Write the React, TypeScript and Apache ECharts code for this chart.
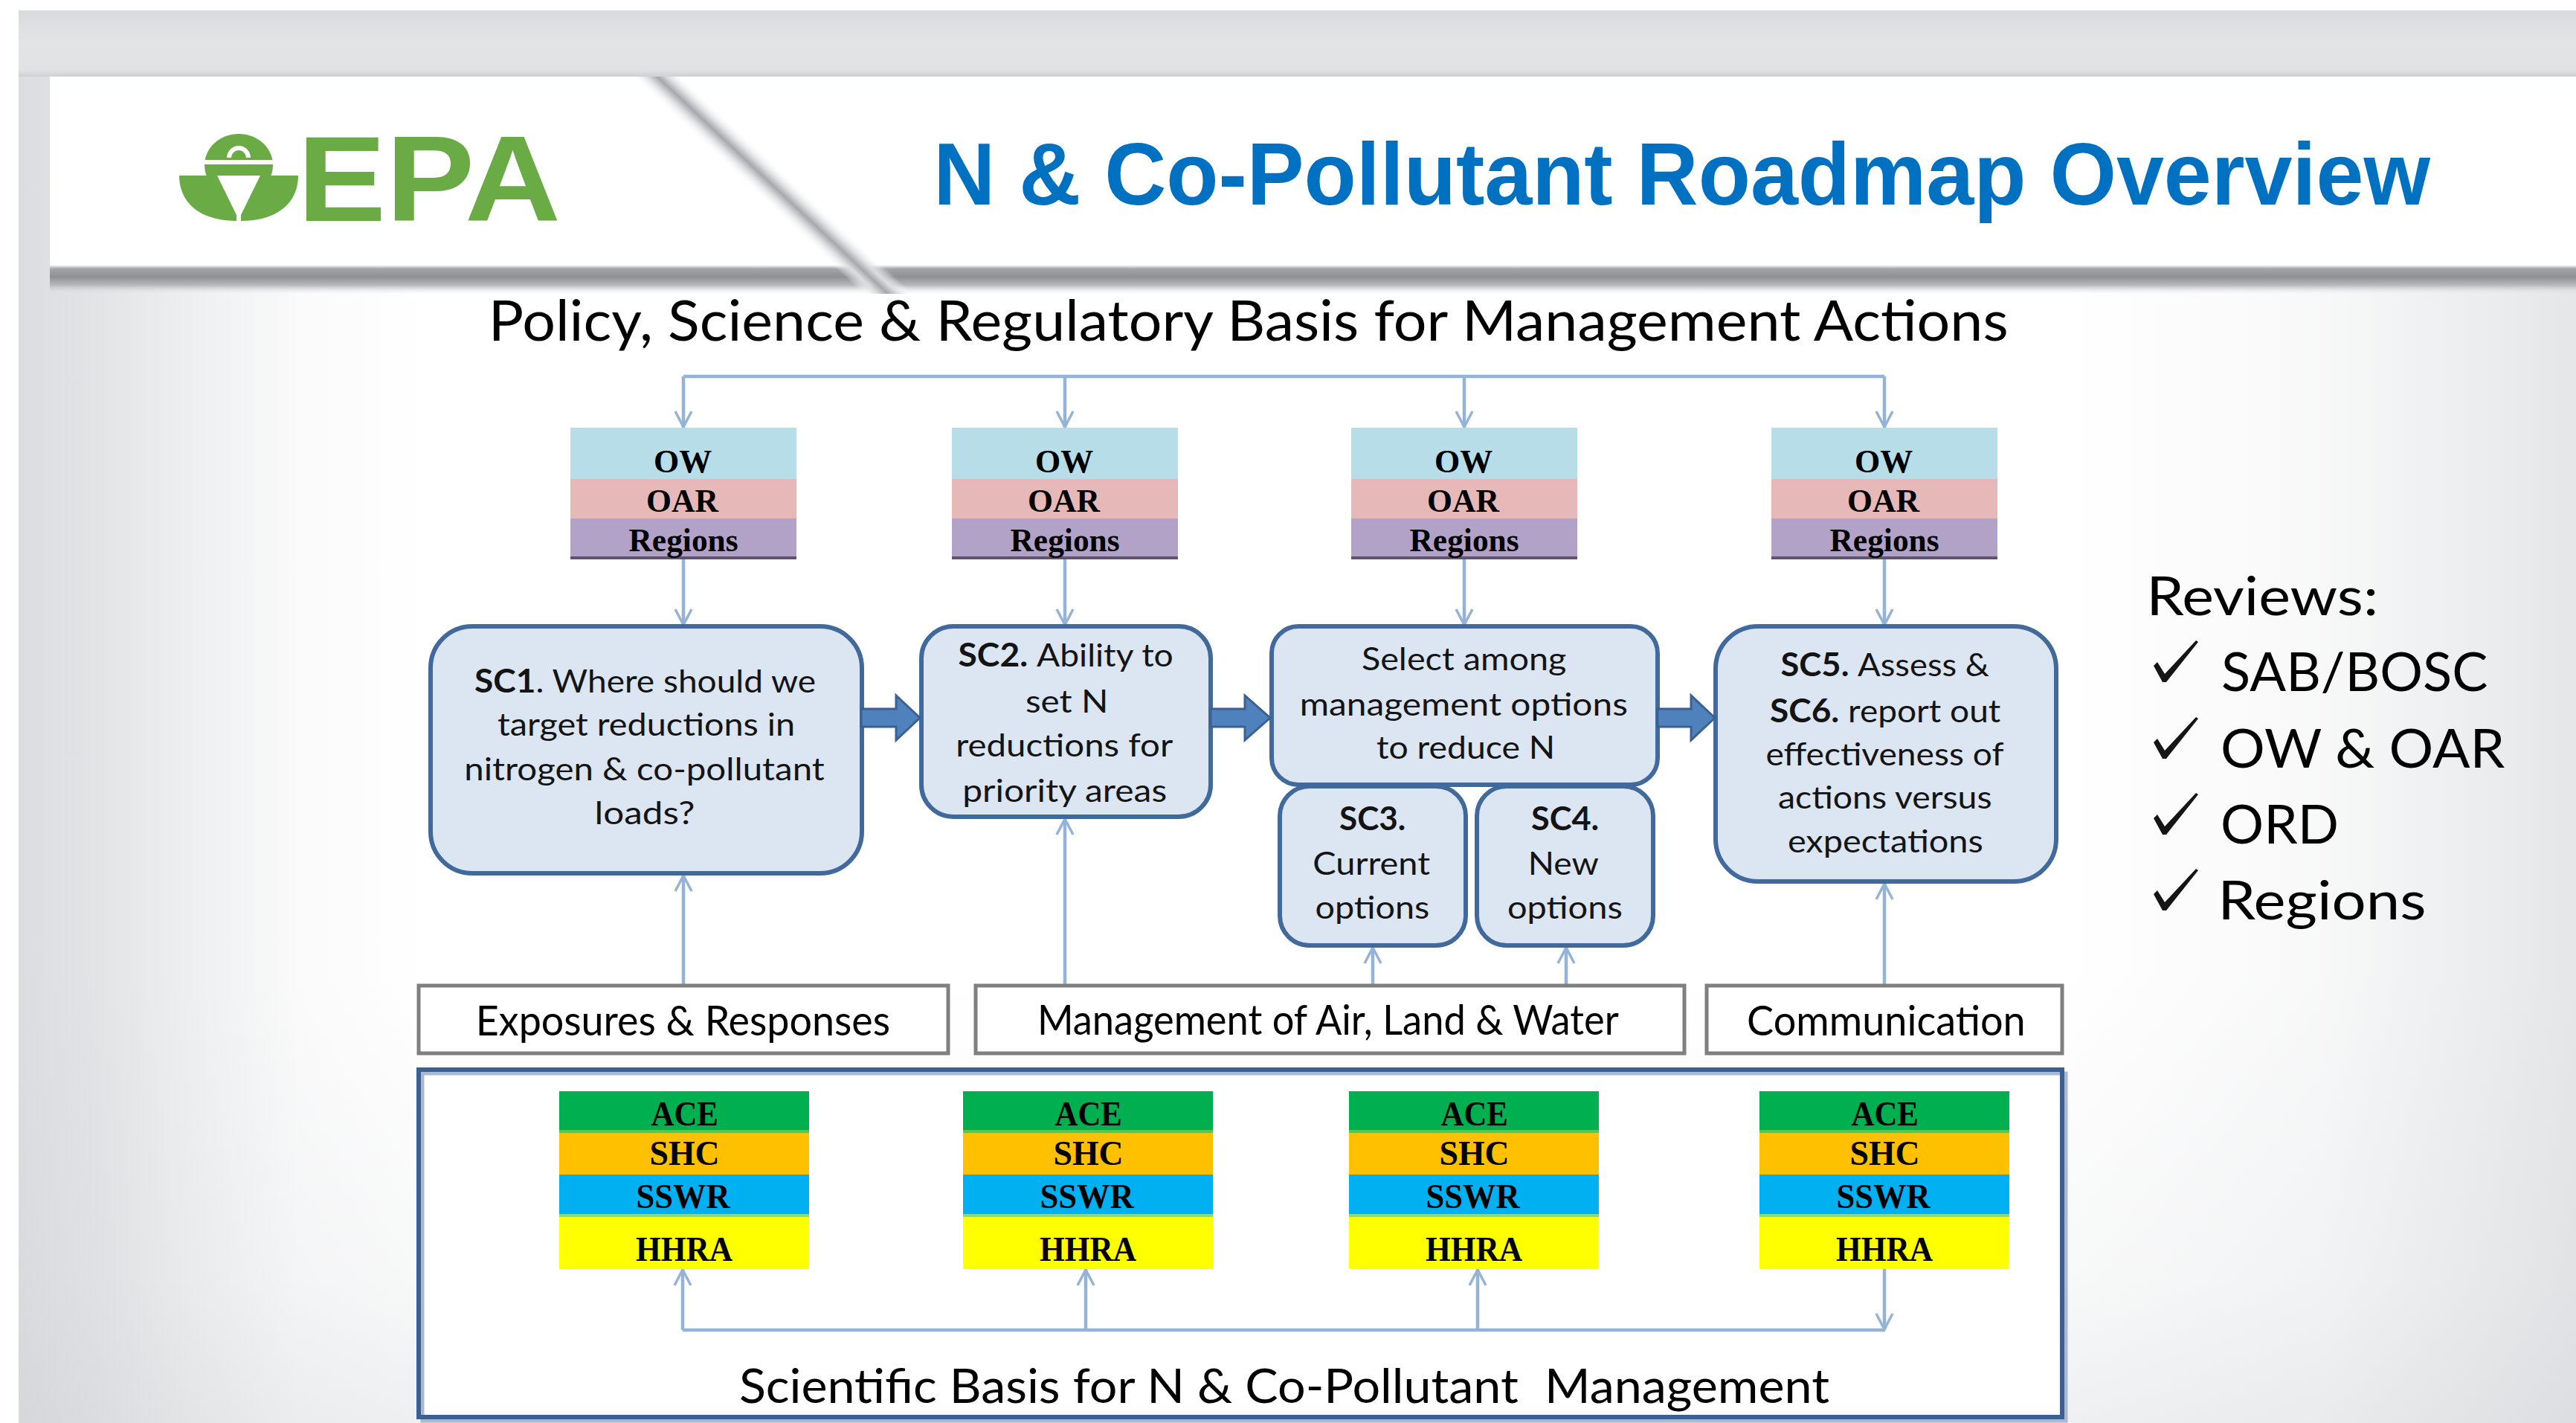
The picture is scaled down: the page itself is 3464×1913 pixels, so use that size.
import React, { useEffect, useRef } from 'react';
import * as echarts from 'echarts';

type Seg = { t: string; b?: boolean };

// ---------------- content (texts) ----------------
const TITLE = 'N & Co-Pollutant Roadmap Overview';
const LOGO_TEXT = 'EPA';
const POLICY_HEADING = 'Policy, Science & Regulatory Basis for Management Actions';
const SCIENCE_HEADING: Seg[] = [{ t: 'Scientific Basis for N & Co-Pollutant' }, { t: '  Management' }];
const OFFICES = ['OW', 'OAR', 'Regions'];
const OFFICE_COLORS = ['#b7dee8', '#e6b9b8', '#b3a2c7'];
const LABS = ['ACE', 'SHC', 'SSWR', 'HHRA'];
const LAB_COLORS = ['#00b050', '#ffc000', '#00b0f0', '#ffff00'];
const THEMES = ['Exposures & Responses', 'Management of Air, Land & Water', 'Communication'];
const REVIEWS_TITLE = 'Reviews:';
const REVIEWS = ['SAB/BOSC', 'OW & OAR', 'ORD', 'Regions'];
const SC1_LINES: Seg[][] = [
  [{ t: 'SC1', b: true }, { t: '. Where should we' }],
  [{ t: 'target reductions in' }],
  [{ t: 'nitrogen & co-pollutant' }],
  [{ t: 'loads?' }],
];
const SC2_LINES: Seg[][] = [
  [{ t: 'SC2.', b: true }, { t: ' Ability to' }],
  [{ t: 'set N' }],
  [{ t: 'reductions for' }],
  [{ t: 'priority areas' }],
];
const SELECT_LINES: Seg[][] = [[{ t: 'Select among' }], [{ t: 'management options' }], [{ t: 'to reduce N' }]];
const SC3_LINES: Seg[][] = [[{ t: 'SC3.', b: true }], [{ t: 'Current' }], [{ t: 'options' }]];
const SC4_LINES: Seg[][] = [[{ t: 'SC4.', b: true }], [{ t: 'New' }], [{ t: 'options' }]];
const SC56_LINES: Seg[][] = [
  [{ t: 'SC5.', b: true }, { t: ' Assess &' }],
  [{ t: 'SC6.', b: true }, { t: ' report out' }],
  [{ t: 'effectiveness of' }],
  [{ t: 'actions versus' }],
  [{ t: 'expectations' }],
];

// ---------------- layout ----------------
const W = 3464;
const H = 1913;
const LINE = '#95b3d7';
const CALIBRI = 'Lato';
const ARIAL = '"Liberation Sans"';
const TIMES = '"Liberation Serif"';

const COL_X = [919, 1432, 1969, 2534];
const OFFICE_W = 304;
const OFFICE_BANDS = [575, 644, 697, 752];
const OFFICE_TEXT_Y = [620, 673, 726];
const OFFICE_TEXT_W = [76, 96, 147];

const LAB_X = [920, 1463, 1982, 2534];
const LAB_W = 336;
const LAB_BANDS = [1467, 1522, 1579, 1635, 1706];
const LAB_TEXT_Y = [1498, 1551, 1609, 1680];
const LAB_TEXT_W = [89, 89, 125, 130];
const LAB_LINE_X = [918, 1460, 1987, 2534];

const SC_BOXES = [
  { lines: SC3_LINES, x: 1721, y: 1057, w: 250, h: 214, r: 40, cx: 1845, ys: [1100, 1161, 1220], ws: [88, 155, 151] },
  { lines: SC4_LINES, x: 1986, y: 1057, w: 237, h: 214, r: 40, cx: 2104, ys: [1100, 1161, 1220], ws: [90, 92, 152] },
  { lines: SELECT_LINES, x: 1710, y: 842, w: 519, h: 213, r: 36, cx: 1969, ys: [886, 946, 1005], ws: [274, 436, 236] },
  { lines: SC1_LINES, x: 579, y: 842, w: 580, h: 332, r: 56, cx: 868, ys: [915, 974, 1033, 1092], ws: [460, 398, 481, 130] },
  { lines: SC2_LINES, x: 1239, y: 842, w: 389, h: 256, r: 43, cx: 1433, ys: [881, 942, 1001, 1062], ws: [289, 106, 289, 271] },
  { lines: SC56_LINES, x: 2307, y: 842, w: 458, h: 343, r: 57, cx: 2535, ys: [893, 955, 1014, 1072, 1131], ws: [281, 310, 319, 286, 260] },
];
const FLOW_ARROWS = [
  [1158, 1205, 1237],
  [1628, 1674, 1708],
  [2229, 2274, 2306],
];
const UP_LINKS = [
  [919, 1174],
  [1432, 1098],
  [1846, 1271],
  [2106, 1271],
  [2534, 1185],
];
const THEME_BOXES = [
  [563, 1275],
  [1312, 2265],
  [2295, 2773],
];
const THEME_CX = [920, 1790, 2536];
const THEME_W = [551, 781, 370];
const REVIEW_Y = [903, 1006, 1108, 1210];
const REVIEW_W = [355, 380, 153, 271];

const LEAVES_PATH =
  'M241 236 C241 272 268 297 318 297 L318 289 L292 236 Z M401 236 C401 272 374 297 324 297 L324 289 L350 236 Z';
try {
  echarts.graphic.registerShape('epaLeaves', echarts.graphic.extendPath(LEAVES_PATH, {}) as any);
} catch (e) {
  /* already registered */
}

// ---------------- text fitting helpers ----------------
let measureCtx: CanvasRenderingContext2D | null = null;
function getCtx() {
  if (!measureCtx) measureCtx = document.createElement('canvas').getContext('2d');
  return measureCtx!;
}
const fontStr = (w: string, size: number, fam: string) => `${w} ${size}px ${fam}`;
function capRatio(w: string, fam: string) {
  const c = getCtx();
  c.font = fontStr(w, 200, fam);
  return c.measureText('H').actualBoundingBoxAscent / 200;
}

interface TOpt {
  fam: string;
  cap: number;
  cy: number;
  width: number;
  cx?: number;
  left?: number;
  color: string;
  bold?: boolean;
}
function textEls(segs: Seg[], o: TOpt): any[] {
  const c = getCtx();
  const wt = (s: Seg) => (s.b || o.bold ? 'bold' : 'normal');
  const size = o.cap / capRatio(o.bold ? 'bold' : 'normal', o.fam);
  let pos = 0;
  let inkL = Infinity;
  let inkR = -Infinity;
  const items: any[] = [];
  segs.forEach((seg) => {
    const w = wt(seg);
    c.font = fontStr(w, size, o.fam);
    const noLead = seg.t.replace(/^\s+/, '');
    const lead = seg.t.length - noLead.length;
    const leadW = lead ? c.measureText(seg.t.slice(0, lead)).width : 0;
    const vis = noLead.replace(/\s+$/, '');
    const m = c.measureText(vis);
    const x0 = pos + leadW;
    inkL = Math.min(inkL, x0 - m.actualBoundingBoxLeft);
    inkR = Math.max(inkR, x0 + m.actualBoundingBoxRight);
    const asc = (m as any).fontBoundingBoxAscent ?? size * 0.9;
    const desc = (m as any).fontBoundingBoxDescent ?? size * 0.22;
    items.push({ x0, vis, w, asc, desc });
    pos += c.measureText(seg.t).width;
  });
  const s = o.width / (inkR - inkL);
  const left = o.left ?? (o.cx as number) - o.width / 2;
  const origin = left - inkL * s;
  const baseline = o.cy + o.cap / 2;
  return items.map((it) => ({
    type: 'text',
    x: origin + it.x0 * s,
    y: baseline - (it.asc - it.desc) / 2,
    scaleX: s,
    silent: true,
    style: {
      text: it.vis,
      font: fontStr(it.w, size, o.fam),
      fill: o.color,
      align: 'left',
      verticalAlign: 'middle',
      textAlign: 'left',
      textVerticalAlign: 'middle',
    },
  }));
}

const line = (x1: number, y1: number, x2: number, y2: number, stroke = LINE, lw = 4.5) => ({
  type: 'line',
  shape: { x1, y1, x2, y2 },
  style: { stroke, lineWidth: lw },
  silent: true,
});
const headDown = (x: number, y: number) => ({
  type: 'polyline',
  shape: { points: [[x - 11, y - 21], [x, y], [x + 11, y - 21]] },
  style: { stroke: LINE, lineWidth: 3.5, fill: null },
  silent: true,
});
const headUp = (x: number, y: number) => ({
  type: 'polyline',
  shape: { points: [[x - 11, y + 21], [x, y], [x + 11, y + 21]] },
  style: { stroke: LINE, lineWidth: 3.5, fill: null },
  silent: true,
});
const GRAY = (a: number) => `rgba(198,200,205,${a})`;

function buildElements(): any[] {
  const els: any[] = [];
  // page + slide background
  els.push({ type: 'rect', shape: { x: 0, y: 0, width: W, height: H }, style: { fill: '#ffffff' } });
  els.push({
    type: 'rect',
    shape: { x: 25, y: 14, width: W - 25, height: H - 14 },
    style: {
      fill: {
        type: 'linear', x: 0, y: 0, x2: 1, y2: 0,
        colorStops: [
          { offset: 0, color: GRAY(0.62) },
          { offset: 0.03, color: GRAY(0.5) },
          { offset: 0.065, color: GRAY(0.3) },
          { offset: 0.11, color: GRAY(0.08) },
          { offset: 0.16, color: GRAY(0) },
          { offset: 0.8, color: GRAY(0) },
          { offset: 0.9, color: GRAY(0.12) },
          { offset: 1, color: GRAY(0.45) },
        ],
      },
    },
  });
  els.push({
    type: 'rect',
    shape: { x: 25, y: 14, width: W - 25, height: H - 14 },
    style: {
      fill: {
        type: 'linear', x: 0, y: 0, x2: 0, y2: 1,
        colorStops: [
          { offset: 0, color: GRAY(0) },
          { offset: 0.68, color: GRAY(0) },
          { offset: 0.9, color: GRAY(0.12) },
          { offset: 1, color: GRAY(0.28) },
        ],
      },
    },
  });
  els.push({
    type: 'rect',
    shape: { x: 25, y: 14, width: W - 25, height: 89 },
    style: {
      fill: {
        type: 'linear', x: 0, y: 0, x2: 0, y2: 1,
        colorStops: [
          { offset: 0, color: '#d9dadd' },
          { offset: 0.5, color: '#e3e4e6' },
          { offset: 0.9, color: '#e1e2e4' },
          { offset: 1, color: '#cfd0d3' },
        ],
      },
    },
  });
  // header
  els.push({ type: 'rect', shape: { x: 67, y: 103, width: W - 67, height: 254 }, style: { fill: '#ffffff' } });
  els.push({
    type: 'rect',
    shape: { x: 67, y: 357, width: W - 67, height: 38 },
    style: {
      fill: {
        type: 'linear', x: 0, y: 0, x2: 0, y2: 1,
        colorStops: [
          { offset: 0, color: '#ebecee' },
          { offset: 0.12, color: '#a2a4a8' },
          { offset: 0.4, color: '#8e9094' },
          { offset: 0.7, color: '#b8babd' },
          { offset: 1, color: 'rgba(228,229,231,0)' },
        ],
      },
    },
  });
  els.push({
    type: 'polygon',
    shape: { points: [[842, 103], [912, 103], [1240, 395], [1162, 395]] },
    style: {
      fill: {
        type: 'linear', x: 1023, y: 266, x2: 1055, y2: 232, global: true,
        colorStops: [
          { offset: 0, color: 'rgba(255,255,255,0)' },
          { offset: 0.3, color: '#dcdde0' },
          { offset: 0.5, color: '#a6a8ac' },
          { offset: 0.7, color: '#dcdde0' },
          { offset: 1, color: 'rgba(255,255,255,0)' },
        ],
      },
    },
  });

  // EPA logo
  const GREEN = '#6aab46';
  els.push({ type: 'ellipse', shape: { cx: 321, cy: 222, rx: 46, ry: 42 }, style: { fill: GREEN } });
  els.push({ type: 'rect', shape: { x: 272, y: 215, width: 98, height: 6 }, style: { fill: '#ffffff' } });
  els.push({
    type: 'arc',
    shape: { cx: 321, cy: 212, r: 13, startAngle: Math.PI, endAngle: Math.PI * 2 },
    style: { stroke: '#ffffff', lineWidth: 6, fill: null },
  });
  els.push({ type: 'polygon', shape: { points: [[290, 236], [352, 236], [321, 292]] }, style: { fill: '#ffffff' } });
  els.push({ type: 'epaLeaves', x: 0, y: 0, style: { fill: GREEN } });
  els.push(...textEls([{ t: LOGO_TEXT }], { fam: ARIAL, bold: true, cap: 113, cy: 240.5, left: 411, width: 339, color: GREEN }));

  // title + headings
  els.push(...textEls([{ t: TITLE }], { fam: ARIAL, bold: true, cap: 83, cy: 233.5, left: 1262, width: 2006, color: '#0070c0' }));
  els.push(...textEls([{ t: POLICY_HEADING }], { fam: CALIBRI, cap: 55, cy: 431, cx: 1684, width: 2042, color: '#000000' }));

  // top connector
  els.push(line(COL_X[0], 506, COL_X[3], 506));
  COL_X.forEach((x) => {
    els.push(line(x, 506, x, 575));
    els.push(headDown(x, 574));
    els.push(line(x, 752, x, 842));
    els.push(headDown(x, 840));
  });

  // office boxes
  COL_X.forEach((x) => {
    OFFICES.forEach((name, i) => {
      els.push({
        type: 'rect',
        shape: { x: x - OFFICE_W / 2, y: OFFICE_BANDS[i], width: OFFICE_W, height: OFFICE_BANDS[i + 1] - OFFICE_BANDS[i] },
        style: { fill: OFFICE_COLORS[i] },
      });
    });
    els.push({ type: 'rect', shape: { x: x - OFFICE_W / 2, y: 748, width: OFFICE_W, height: 4 }, style: { fill: '#5f5370' } });
    OFFICES.forEach((name, i) => {
      els.push(...textEls([{ t: name }], { fam: TIMES, bold: true, cap: 29, cy: OFFICE_TEXT_Y[i], cx: x, width: OFFICE_TEXT_W[i], color: '#000000' }));
    });
  });

  // upward links from theme boxes to SC boxes
  UP_LINKS.forEach(([x, y]) => {
    els.push(line(x, 1325, x, y + 2));
    els.push(headUp(x, y + 3));
  });

  // SC boxes
  SC_BOXES.forEach((b) => {
    els.push({
      type: 'rect',
      shape: { x: b.x, y: b.y, width: b.w, height: b.h, r: b.r },
      style: { fill: '#dce6f2', stroke: '#41699c', lineWidth: 6 },
    });
  });
  SC_BOXES.forEach((b) => {
    b.lines.forEach((segs, i) => {
      els.push(...textEls(segs, { fam: CALIBRI, cap: 31, cy: b.ys[i], cx: b.cx, width: b.ws[i], color: '#141414' }));
    });
  });
  FLOW_ARROWS.forEach(([x0, xh, x1]) => {
    const cy = 965;
    els.push({
      type: 'polygon',
      shape: {
        points: [[x0, cy - 12], [xh, cy - 12], [xh, cy - 30], [x1, cy], [xh, cy + 30], [xh, cy + 12], [x0, cy + 12]],
      },
      style: { fill: '#4f81bd', stroke: '#3a6191', lineWidth: 3 },
    });
  });

  // theme boxes
  THEME_BOXES.forEach(([x0, x1], i) => {
    els.push({
      type: 'rect',
      shape: { x: x0, y: 1325, width: x1 - x0, height: 91 },
      style: { fill: '#ffffff', stroke: '#7f7f7f', lineWidth: 5 },
    });
    els.push(...textEls([{ t: THEMES[i] }], { fam: CALIBRI, cap: 41, cy: 1371, cx: THEME_CX[i], width: THEME_W[i], color: '#000000' }));
  });

  // science box
  els.push({ type: 'rect', shape: { x: 563, y: 1438, width: 2210, height: 467 }, style: { fill: '#ffffff' } });
  els.push({
    type: 'rect',
    shape: { x: 568, y: 1443, width: 2210, height: 467 },
    style: { fill: null, stroke: '#a9b9d2', lineWidth: 5 },
  });
  els.push({
    type: 'rect',
    shape: { x: 563, y: 1438, width: 2210, height: 467 },
    style: { fill: null, stroke: '#3b5f92', lineWidth: 6 },
  });

  // lab connectors
  els.push(line(LAB_LINE_X[0], 1788, LAB_LINE_X[3], 1788));
  LAB_LINE_X.forEach((x, i) => {
    els.push(line(x, 1706, x, 1788));
    if (i < 3) els.push(headUp(x, 1707));
    else els.push(headDown(x, 1787));
  });

  // lab stacks
  LAB_X.forEach((x) => {
    LABS.forEach((name, i) => {
      els.push({
        type: 'rect',
        shape: { x: x - LAB_W / 2, y: LAB_BANDS[i], width: LAB_W, height: LAB_BANDS[i + 1] - LAB_BANDS[i] },
        style: { fill: LAB_COLORS[i] },
      });
    });
    els.push({ type: 'rect', shape: { x: x - LAB_W / 2, y: 1519, width: LAB_W, height: 4 }, style: { fill: '#6cbf45' } });
    els.push({ type: 'rect', shape: { x: x - LAB_W / 2, y: 1632, width: LAB_W, height: 4 }, style: { fill: '#86d98a' } });
    LABS.forEach((name, i) => {
      els.push(...textEls([{ t: name }], { fam: TIMES, bold: true, cap: 30, cy: LAB_TEXT_Y[i], cx: x, width: LAB_TEXT_W[i], color: '#000000' }));
    });
  });
  els.push(...textEls(SCIENCE_HEADING, { fam: CALIBRI, cap: 46, cy: 1863, left: 996, width: 1464, color: '#000000' }));

  // reviews
  els.push(...textEls([{ t: REVIEWS_TITLE }], { fam: CALIBRI, cap: 51, cy: 802, left: 2893, width: 301, color: '#000000' }));
  REVIEWS.forEach((name, i) => {
    const dy = REVIEW_Y[i] - REVIEW_Y[0];
    els.push({
      type: 'polygon',
      y: dy,
      shape: { points: [[2896, 895], [2901, 890], [2911, 906], [2953, 861], [2956, 863], [2913, 917], [2908, 917]] },
      style: { fill: '#151515' },
    });
    els.push(...textEls([{ t: name }], { fam: CALIBRI, cap: 52, cy: REVIEW_Y[i], left: 2989, width: REVIEW_W[i], color: '#000000' }));
  });

  return els;
}

export default function App() {
  const ref = useRef<HTMLDivElement>(null);
  useEffect(() => {
    if (!ref.current) return;
    const chart = echarts.init(ref.current, null, { renderer: 'svg', width: W, height: H });
    chart.setOption({ animation: false, graphic: { elements: buildElements() } });
    return () => chart.dispose();
  }, []);
  return <div ref={ref} style={{ position: 'absolute', left: 0, top: 0, width: W, height: H }} />;
}
